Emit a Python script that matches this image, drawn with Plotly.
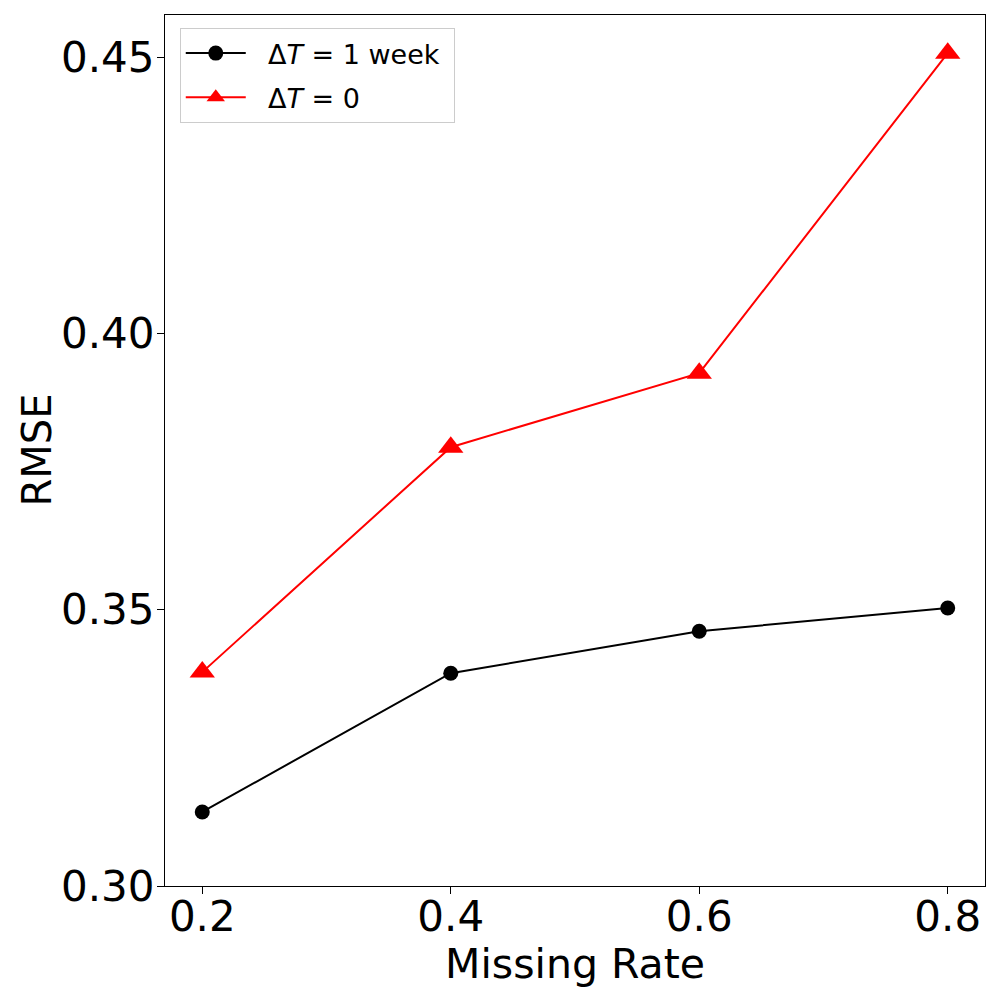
import plotly.graph_objects as go

# data
missing_rate = [0.2, 0.4, 0.6, 0.8]
rmse_week = [0.3134, 0.3385, 0.3461, 0.3503]
rmse_zero = [0.3387, 0.3794, 0.3928, 0.4507]
x_ticks = [0.2, 0.4, 0.6, 0.8]
y_ticks = [0.30, 0.35, 0.40, 0.45]

fig = go.Figure()
fig.add_trace(go.Scatter(
    x=missing_rate, y=rmse_week, mode='lines+markers',
    name='&nbsp;&nbsp;Δ<i>T</i> = 1 week&nbsp;',
    line=dict(color='black', width=2),
    marker=dict(symbol='circle', size=15, color='black'),
    legendgroup='week',
))
fig.add_trace(go.Scatter(
    x=missing_rate, y=rmse_zero, mode='lines+markers',
    name='&nbsp;&nbsp;Δ<i>T</i> = 0',
    line=dict(color='red', width=2),
    marker=dict(symbol='triangle-up', size=22, color='red'),
    legendgroup='zero',
))

axis_style = dict(
    showline=True, linecolor='black', linewidth=1.2, mirror=True,
    ticks='outside', ticklen=7, tickwidth=1.2, tickcolor='black',
    showgrid=False, zeroline=False,
    tickfont=dict(size=42, color='black'),
)

fig.update_layout(
    width=1000, height=1000,
    plot_bgcolor='white', paper_bgcolor='white',
    font=dict(family='DejaVu Sans', color='black'),
    margin=dict(l=157, r=23, t=7, b=122),
    xaxis=dict(axis_style, range=[0.170, 0.830], tickvals=x_ticks,
               ticktext=[f'{v:.1f}' for v in x_ticks],
               ticklabelstandoff=-14,
               title=dict(text='Missing Rate', font=dict(size=41), standoff=0)),
    yaxis=dict(axis_style, range=[0.30, 0.4576], tickvals=y_ticks,
               ticktext=[f'{v:.2f}' for v in y_ticks],
               ticklabelstandoff=-6),
    legend=dict(x=0.018, y=0.985, xanchor='left', yanchor='top',
                bgcolor='white', bordercolor='#cccccc', borderwidth=1,
                font=dict(size=27), tracegroupgap=6, itemwidth=60),
    showlegend=True,
)

# y title as an annotation so it can sit closer to the tick labels
fig.add_annotation(
    text='RMSE', textangle=-90, font=dict(size=40),
    x=0, y=0.5, xref='paper', yref='paper',
    xanchor='center', yanchor='middle', xshift=-129, showarrow=False,
)

fig.write_html("out.html")
